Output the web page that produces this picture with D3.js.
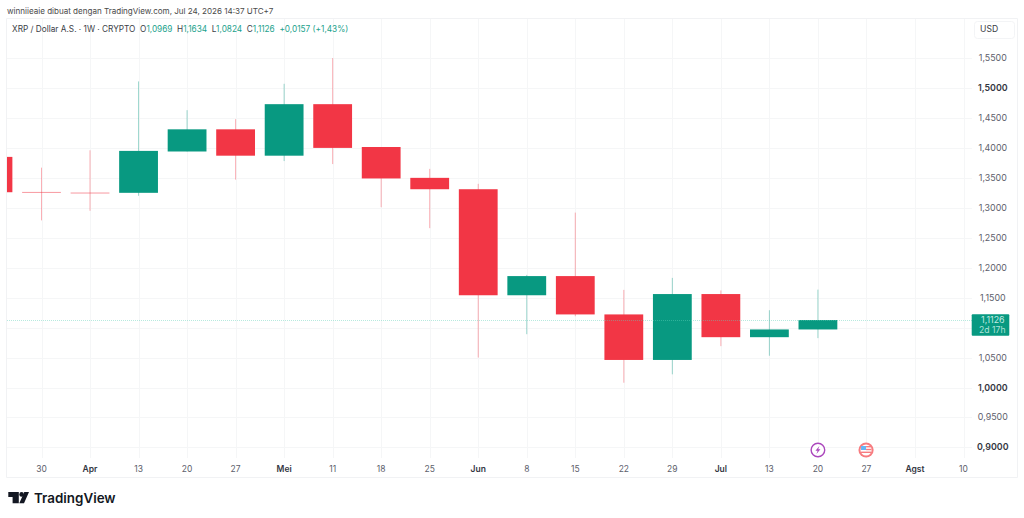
<!DOCTYPE html>
<html>
<head>
<meta charset="utf-8">
<script src="https://d3js.org/d3.v7.min.js"></script>
<style>
html,body{margin:0;padding:0;background:#fff;}
svg{display:block;font-family:"Inter","Liberation Sans",sans-serif;}
</style>
</head>
<body>
<svg id="chart" width="1024" height="518"></svg>
<script>
// Weekly XRP/USD candles, oldest first. Index 0 is the week labelled "30".
const weekIndex = [-1,0,1,2,3,4,5,6,7,8,9,10,11,12,13,14,15,16];
const opens  = [1.385,1.3265,1.3255,1.325,1.394,1.431,1.387,1.473,1.4015,1.350,1.331,1.154,1.186,1.122,1.046,1.156,1.084,1.0969];
const closes = [1.326,1.3260,1.3250,1.395,1.431,1.387,1.473,1.400,1.349,1.331,1.154,1.186,1.122,1.046,1.156,1.084,1.0969,1.1126];
const highs  = [1.395,1.367,1.396,1.511,1.463,1.448,1.507,1.550,1.4015,1.365,1.340,1.188,1.292,1.163,1.183,1.162,1.129,1.1634];
const lows   = [1.320,1.279,1.295,1.320,1.394,1.347,1.378,1.373,1.301,1.266,1.050,1.089,1.119,1.008,1.022,1.069,1.053,1.0824];

const timeTicks = ["30","Apr","13","20","27","Mei","11","18","25","Jun","8","15","22","29","Jul","13","20","27","Agst","10"];
const boldTimeTicks = ["Apr","Mei","Jun","Jul","Agst"];
const priceTicks = [1.55,1.5,1.45,1.4,1.35,1.3,1.25,1.2,1.15,1.05,1.0,0.95,0.9];
const gridPrices = [1.55,1.5,1.45,1.4,1.35,1.3,1.25,1.2,1.15,1.1,1.05,1.0,0.95,0.9];
const boldPrices = [1.5,1.0,0.9];
const lastPrice = 1.1126;
const countdown = "2d 17h";

const UP = "#089981", DOWN = "#f23645";
const svg = d3.select("#chart");
const pane = {left:7, right:972, top:18, bottom:477};
const x = d3.scaleLinear().domain([0,19]).range([41.5,963.5]);
const y = d3.scaleLinear().domain([1.0,1.5]).range([387.5,88]);
const comma = v => v.toFixed(4).replace(".",",");

svg.append("text").attr("x",7).attr("y",14).attr("font-size",8.05).attr("fill","#4a4a4a")
  .text("winniieaie dibuat dengan TradingView.com, Jul 24, 2026 14:37 UTC+7");

// Grid
const grid = svg.append("g").attr("stroke","#f5f6f7").attr("stroke-width",1);
gridPrices.forEach(p => grid.append("line").attr("x1",pane.left).attr("x2",pane.right)
  .attr("y1",Math.round(y(p))+.5).attr("y2",Math.round(y(p))+.5));
timeTicks.forEach((_,i) => grid.append("line").attr("y1",pane.top).attr("y2",458)
  .attr("x1",Math.round(x(i))+.5).attr("x2",Math.round(x(i))+.5));

// Frame
svg.append("path").attr("fill","none").attr("stroke","#f1f2f4")
  .attr("d",`M${pane.left-.5},${pane.top+.5}H1017.5V${pane.bottom+.5}H${pane.left-.5}Z`);

// Candles
svg.append("clipPath").attr("id","pane").append("rect")
  .attr("x",pane.left).attr("y",pane.top).attr("width",pane.right-pane.left).attr("height",pane.bottom-pane.top);
const candles = svg.append("g").attr("clip-path","url(#pane)");
const bodyW = 38.8;
weekIndex.forEach((w,i) => {
  const o=opens[i], c=closes[i], up=c>o, col=up?UP:DOWN, cx=x(w);
  candles.append("line").attr("x1",cx).attr("x2",cx).attr("y1",y(highs[i])).attr("y2",y(lows[i]))
    .attr("stroke",col).attr("stroke-opacity",.4).attr("stroke-width",1);
  const top=Math.min(y(o),y(c)), h=Math.max(Math.abs(y(o)-y(c)),1);
  candles.append("rect").attr("x",cx-bodyW/2).attr("width",bodyW).attr("y",top).attr("height",h)
    .attr("fill",col).attr("fill-opacity",h<=1.5?.5:1);
});

// Last price guide, over the candles
svg.append("line").attr("x1",pane.left).attr("x2",pane.right)
  .attr("y1",Math.round(y(lastPrice))+.5).attr("y2",Math.round(y(lastPrice))+.5)
  .attr("stroke","#5fd0b8").attr("stroke-opacity",.45).attr("stroke-dasharray","1 1");

// Header legend
const legend = svg.append("text").attr("x",12).attr("y",32).attr("font-size",8.25).attr("fill","#3a3d45");
[["XRP / Dollar A.S. · 1W · CRYPTO  ",0],["O",0],["1,0969  ",1],["H",0],["1,1634  ",1],["L",0],["1,0824  ",1],["C",0],["1,1126  +0,0157 (+1,43%)",1]]
  .forEach(([t,g]) => legend.append("tspan").style("white-space","pre").attr("fill",g?"#22a28c":"#3a3d45").text(t));

// Price axis
const priceAxis = svg.append("g").attr("font-size",8.9).attr("text-anchor","middle");
priceTicks.forEach(p => priceAxis.append("text").attr("x",992.8).attr("y",y(p)+3)
  .attr("fill",boldPrices.includes(p)?"#33363f":"#5d606b")
  .attr("font-weight",boldPrices.includes(p)?600:400).text(comma(p)));

// Currency button
svg.append("rect").attr("x",974.5).attr("y",21.5).attr("width",40).attr("height",17).attr("rx",3)
  .attr("fill","#fff").attr("stroke","#f3f4f6");
svg.append("text").attr("x",980).attr("y",32.2).attr("font-size",8.6).attr("fill","#3a3d45").text("USD");

// Last price badge
svg.append("rect").attr("x",971.7).attr("y",314.3).attr("width",37.6).attr("height",21.4).attr("rx",1).attr("fill",UP);
svg.append("text").attr("x",992.8).attr("y",323).attr("text-anchor","middle").attr("font-size",8.9).attr("fill","#c2ebe3").text(comma(lastPrice));
svg.append("text").attr("x",992.3).attr("y",332.8).attr("text-anchor","middle").attr("font-size",8.6).attr("fill","#b0e2d8").text(countdown);

// Time axis
timeTicks.forEach((t,i) => {
  const b = boldTimeTicks.includes(t);
  svg.append("text").attr("x",x(i)).attr("y",472).attr("text-anchor","middle").attr("font-size",8.5)
    .attr("font-weight",b?600:400).attr("fill",b?"#33363f":"#5d606b").text(t);
});

// Event markers
const bolt = svg.append("g").attr("transform",`translate(${x(16)},450)`);
bolt.append("circle").attr("r",6.8).attr("fill","#fff").attr("stroke","#ab47bc").attr("stroke-width",1.4);
bolt.append("path").attr("d","M1.5,-4L-2.5,0.8H-0.3L-1.5,4L2.5,-0.8H0.3Z").attr("fill","#ab47bc");
const flag = svg.append("g").attr("transform",`translate(${x(17)-.4},450)`);
flag.append("circle").attr("r",7.6).attr("fill","#f77c80");
flag.append("circle").attr("r",5.6).attr("fill","#fff");
flag.append("rect").attr("x",-5).attr("y",-4).attr("width",5).attr("height",4).attr("fill","#64b5f6");
flag.append("rect").attr("x",0).attr("y",-4).attr("width",5).attr("height",1.4).attr("fill","#f77c80");
flag.append("rect").attr("x",0).attr("y",-1.2).attr("width",5.4).attr("height",1.4).attr("fill","#f77c80");
flag.append("rect").attr("x",-5).attr("y",1.6).attr("width",10).attr("height",1.4).attr("fill","#f77c80");

// Brand mark and wordmark
svg.append("path").attr("fill","#131722")
  .attr("d","M8.3,492H18.8V503.3H12.6V497H8.3Z M24.3,492H29L24,503.3H19.3Z");
svg.append("circle").attr("cx",21.6).attr("cy",494.4).attr("r",2.3).attr("fill","#131722");
svg.append("text").attr("x",34).attr("y",503).attr("font-size",13.4).attr("font-weight",600).attr("fill","#131722").text("TradingView");
</script>
</body>
</html>
